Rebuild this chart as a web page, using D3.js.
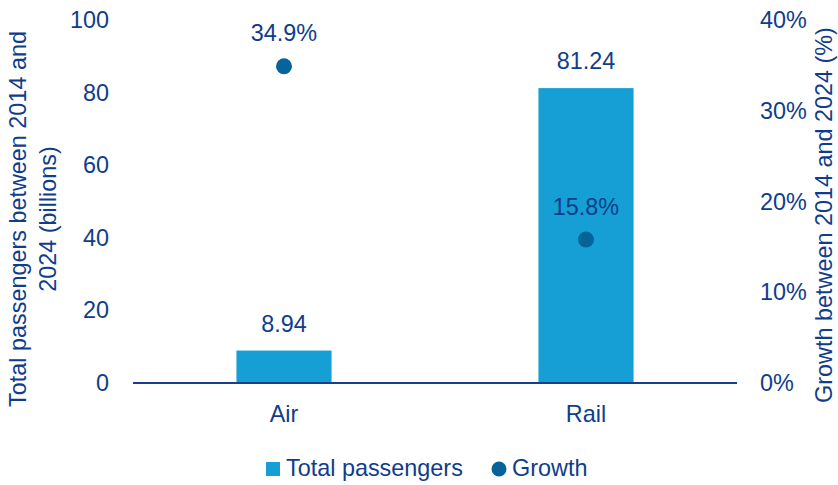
<!DOCTYPE html>
<html>
<head>
<meta charset="utf-8">
<script src="https://cdn.jsdelivr.net/npm/d3@7"></script>
<style>
  html, body { margin: 0; padding: 0; background: #ffffff; }
  svg { display: block; font-family: "Liberation Sans", Arial, sans-serif; }
</style>
</head>
<body>
<svg id="chart" width="838" height="485"></svg>
<script>
// Passenger totals and growth, 2014–2024
const categories = ["Air", "Rail"];
const totalPassengers = [8.94, 81.24];        // billions
const growth = [0.349, 0.158];                // share
const leftTicks = [0, 20, 40, 60, 80, 100];
const rightTicks = [0, 0.1, 0.2, 0.3, 0.4];
const legendLabels = ["Total passengers", "Growth"];

const TEXT = "#0f3d8b";
const AXIS = "#173f8d";
const BAR = "#159fd4";
const DOT = "#07649a";
const FS = 23.4;

const svg = d3.select("#chart");
const plot = { left: 133, right: 737, top: 20, bottom: 383 };

const x = d3.scaleBand().domain(categories).range([plot.left, plot.right]).padding(0);
const yL = d3.scaleLinear().domain([0, 100]).range([plot.bottom, plot.top]);
const yR = d3.scaleLinear().domain([0, 0.4]).range([plot.bottom, plot.top]);
const barW = x.bandwidth() * 0.315;

function styleAxis(g) {
  g.select(".domain").remove();
  g.selectAll("text").attr("fill", TEXT).style("font-size", FS + "px")
    .style("font-family", '"Liberation Sans", Arial, sans-serif');
}

// Left axis
svg.append("g")
  .attr("transform", `translate(${plot.left},0)`)
  .call(d3.axisLeft(yL).tickValues(leftTicks).tickSize(0).tickPadding(24).tickFormat(d3.format("d")))
  .call(styleAxis);

// Right axis
svg.append("g")
  .attr("transform", `translate(${plot.right},0)`)
  .call(d3.axisRight(yR).tickValues(rightTicks).tickSize(0).tickPadding(23).tickFormat(d3.format(".0%")))
  .call(styleAxis);

// Bars
svg.append("g").selectAll("rect")
  .data(categories)
  .join("rect")
  .attr("x", (d) => x(d) + x.bandwidth() / 2 - barW / 2)
  .attr("y", (d, i) => yL(totalPassengers[i]))
  .attr("width", barW)
  .attr("height", (d, i) => yL(0) - yL(totalPassengers[i]))
  .attr("fill", BAR);

// Bar value labels
svg.append("g").selectAll("text")
  .data(categories)
  .join("text")
  .attr("x", (d) => x(d) + x.bandwidth() / 2)
  .attr("y", (d, i) => yL(totalPassengers[i]) - 19)
  .attr("text-anchor", "middle")
  .attr("fill", TEXT)
  .style("font-size", FS + "px")
  .text((d, i) => d3.format(".2f")(totalPassengers[i]));

// Baseline
svg.append("line")
  .attr("x1", plot.left).attr("x2", plot.right)
  .attr("y1", yL(0)).attr("y2", yL(0))
  .attr("stroke", AXIS).attr("stroke-width", 2);

// Category axis
svg.append("g")
  .attr("transform", `translate(0,${plot.bottom})`)
  .call(d3.axisBottom(x).tickSize(0).tickPadding(0))
  .call(styleAxis)
  .call((g) => g.selectAll("text").attr("dy", null).attr("y", 39));

// Growth dots
svg.append("g").selectAll("circle")
  .data(categories)
  .join("circle")
  .attr("cx", (d) => x(d) + x.bandwidth() / 2)
  .attr("cy", (d, i) => yR(growth[i]))
  .attr("r", 8)
  .attr("fill", DOT);

// Growth labels
svg.append("g").selectAll("text")
  .data(categories)
  .join("text")
  .attr("x", (d) => x(d) + x.bandwidth() / 2)
  .attr("y", (d, i) => yR(growth[i]) - 25)
  .attr("text-anchor", "middle")
  .attr("fill", TEXT)
  .style("font-size", FS + "px")
  .text((d, i) => d3.format(".1%")(growth[i]));

// Axis titles
const leftTitle = svg.append("text")
  .attr("transform", "translate(26,219) rotate(-90)")
  .attr("text-anchor", "middle")
  .attr("fill", TEXT)
  .style("font-size", FS + "px");
leftTitle.append("tspan").attr("x", 0).attr("y", 0).text("Total passengers between 2014 and");
leftTitle.append("tspan").attr("x", 0).attr("y", 30).text("2024 (billions)");

svg.append("text")
  .attr("transform", "translate(832,215) rotate(-90)")
  .attr("text-anchor", "middle")
  .attr("fill", TEXT)
  .style("font-size", FS + "px")
  .text("Growth between 2014 and 2024 (%)");

// Legend
const legend = svg.append("g");
legend.append("rect").attr("x", 266).attr("y", 462).attr("width", 14).attr("height", 14).attr("fill", BAR);
legend.append("text").attr("x", 286).attr("y", 476).attr("fill", TEXT).style("font-size", FS + "px").text(legendLabels[0]);
legend.append("circle").attr("cx", 499).attr("cy", 469).attr("r", 7.5).attr("fill", DOT);
legend.append("text").attr("x", 512).attr("y", 476).attr("fill", TEXT).style("font-size", FS + "px").text(legendLabels[1]);
</script>
</body>
</html>
